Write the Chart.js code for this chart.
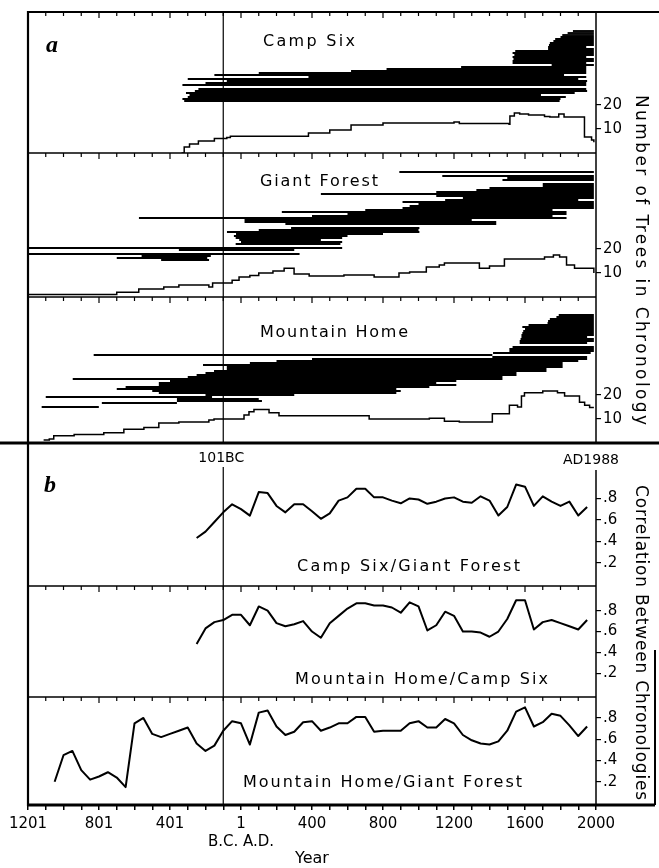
<!DOCTYPE html>
<html lang="en">
<head>
<meta charset="utf-8">
<title>Sequoia chronologies</title>
<script src="https://cdn.jsdelivr.net/npm/chart.js@4.4.1/dist/chart.umd.min.js"></script>
<style>
  html, body { margin: 0; padding: 0; background: #fff; }
  canvas { display: block; }
</style>
</head>
<body>
<canvas id="cronologias" width="659" height="868"></canvas>
<script>
const FUENTE = "'DejaVu Sans', sans-serif";

// years use astronomical numbering (0 = 1 B.C.)
const aniosEtiquetas = [-1200, -800, -400, 0, 400, 800, 1200, 1600, 2000];
const etiquetasAnio = ['1201', '801', '401', '1', '400', '800', '1200', '1600', '2000'];
const ticksArboles = [10, 20];
const ticksCorrelacion = [0.2, 0.4, 0.6, 0.8];

// a) tree spans (start year, end year, row in the diagram)
const campSixFila = [0, 1, 2, 3, 4, 5, 6, 8, 9, 10, 11, 12, 13, 14, 15, 16, 17, 18, 19, 20, 21, 22, 23, 24, 25, 26, 27, 28, 29, 30, 31, 32, 33, 34, 35];
const campSixInicio = [-320, -330, -300, -290, -310, -260, -240, -330, -200, -80, -300, 380, -150, 100, 620, 820, 1240, 1750, 1530, 1530, 1535, 1530, 1540, 1530, 1545, 1730, 1730, 1735, 1740, 1760, 1770, 1800, 1810, 1840, 1870];
const campSixFin = [1795, 1800, 1830, 1690, 1880, 1950, 1945, 1945, 1945, 1950, 1900, 1945, 1820, 1945, 1945, 1945, 1945, 1988, 1945, 1988, 1988, 1945, 1988, 1988, 1988, 1988, 1945, 1988, 1988, 1988, 1988, 1988, 1988, 1988, 1988];

const giantFila = [0, 1, 2, 3, 5, 6, 8, 9, 10, 11, 12, 13, 14, 15, 16, 18, 19, 20, 21, 22, 23, 24, 25, 26, 27, 28, 29, 30, 31, 32, 33, 34, 35, 36, 37, 38, 40, 41, 42, 44];
const giantInicio = [-450, -700, -560, -1200, -350, -1200, -30, 0, -10, -30, -40, -28, -79, 100, 282, 250, 20, 20, -575, 400, 600, 230, 700, 910, 950, 1000, 910, 1150, 1250, 1100, 450, 1100, 1326, 1400, 1700, 1700, 1473, 1500, 1134, 892];
const giantFin = [-180, -190, -170, 330, 300, 570, 560, 570, 450, 570, 600, 800, 1005, 1000, 1005, 1438, 1438, 1300, 1834, 1755, 1834, 1834, 1755, 1988, 1988, 1988, 1988, 1900, 1988, 1988, 1988, 1988, 1988, 1988, 1988, 1988, 1988, 1988, 1988, 1988];

const mountainFila = [0, 2, 3, 4, 5, 6, 7, 8, 9, 10, 11, 12, 13, 14, 15, 16, 17, 18, 19, 20, 21, 22, 23, 24, 25, 26, 27, 28, 29, 30, 32, 33, 34, 35, 36, 37, 38, 39, 40, 41, 42, 43, 44, 45, 46];
const mountainInicio = [-1123, -784, -361, -361, -1100, -200, -463, -500, -700, -650, -463, -463, -400, -948, -300, -250, -200, -152, -80, -80, -214, 50, 200, 400, 1416, -830, 1420, 1512, 1512, 1530, 1570, 1570, 1575, 1580, 1580, 1585, 1590, 1600, 1585, 1620, 1727, 1730, 1740, 1777, 1790];
const mountainFin = [-801, -361, 118, 100, -163, 300, 875, 900, 875, 1061, 1213, 1100, 1213, 1473, 1473, 1552, 1552, 1721, 1721, 1812, 1812, 1812, 1900, 1950, 1950, 1416, 1970, 1988, 1988, 1988, 1950, 1988, 1988, 1950, 1988, 1988, 1988, 1988, 1988, 1988, 1988, 1988, 1988, 1988, 1988];

// a) number of trees in chronology
const aniosCampSix = [-335, -320, -290, -240, -150, -80, -60, 380, 500, 620, 800, 1200, 1230, 1510, 1515, 1540, 1570, 1620, 1710, 1740, 1790, 1820, 1935, 1975, 1988];
const nCampSix = [0, 2.5, 3.7, 5, 6, 6.5, 7, 8.3, 9.6, 11.7, 12.5, 12.9, 12.3, 12, 15.4, 16.7, 16.2, 15.8, 15.2, 15, 16.2, 15, 6.7, 5.4, 4.5];
const aniosGiant = [-1200, -700, -576, -435, -350, -181, -160, -96, -50, -11, 50, 100, 180, 243, 299, 384, 580, 750, 890, 950, 1044, 1117, 1146, 1343, 1400, 1484, 1710, 1760, 1795, 1834, 1879, 1988];
const nGiant = [1, 2, 3.3, 4.2, 5, 4.2, 5.8, 5.8, 7, 8.3, 9, 10, 10.8, 12, 9.6, 8.7, 9.2, 8.3, 10, 10.4, 12.5, 13.3, 14.2, 12, 12.9, 15.8, 16.7, 17.5, 16.7, 13.3, 12, 10];
const aniosMountain = [-1112, -1080, -1055, -940, -773, -660, -547, -463, -350, -181, -152, 17, 45, 73, 158, 214, 722, 1061, 1146, 1230, 1416, 1512, 1558, 1580, 1597, 1700, 1783, 1823, 1907, 1936, 1964, 1988];
const nMountain = [1.3, 1.7, 3, 3.5, 4.3, 5.7, 6.5, 8.3, 8.7, 9.6, 10, 11.7, 13, 13.9, 12.6, 11.3, 10, 10.3, 9.1, 8.7, 12.2, 15.7, 15, 19.6, 20.9, 21.7, 20.9, 19.6, 17, 15.7, 14.8, 14.8];

// b) correlation between chronologies
const aniosCorr = [-250, -200, -150, -100, -50, 0, 50, 100, 150, 200, 250, 300, 350, 400, 450, 500, 550, 600, 650, 700, 750, 800, 850, 900, 950, 1000, 1050, 1100, 1150, 1200, 1250, 1300, 1350, 1400, 1450, 1500, 1550, 1600, 1650, 1700, 1750, 1800, 1850, 1900, 1950];
const corrCampGiant = [0.43, 0.49, 0.58, 0.67, 0.745, 0.70, 0.64, 0.86, 0.85, 0.73, 0.67, 0.745, 0.745, 0.68, 0.61, 0.66, 0.78, 0.81, 0.89, 0.89, 0.81, 0.81, 0.78, 0.755, 0.80, 0.79, 0.75, 0.77, 0.80, 0.81, 0.77, 0.76, 0.82, 0.78, 0.64, 0.72, 0.93, 0.91, 0.73, 0.82, 0.77, 0.73, 0.77, 0.64, 0.72];
const corrMountainCamp = [0.48, 0.63, 0.69, 0.71, 0.76, 0.76, 0.66, 0.84, 0.80, 0.68, 0.65, 0.67, 0.70, 0.60, 0.54, 0.68, 0.75, 0.82, 0.87, 0.87, 0.85, 0.85, 0.83, 0.78, 0.88, 0.84, 0.61, 0.66, 0.79, 0.75, 0.60, 0.60, 0.59, 0.55, 0.60, 0.72, 0.90, 0.90, 0.62, 0.69, 0.71, 0.68, 0.65, 0.62, 0.71];
const aniosCorrLargo = [-1050, -1000, -950, -900, -850, -800, -750, -700, -650, -600, -550, -500, -450, -400, -350, -300, -250, -200, -150, -100, -50, 0, 50, 100, 150, 200, 250, 300, 350, 400, 450, 500, 550, 600, 650, 700, 750, 800, 850, 900, 950, 1000, 1050, 1100, 1150, 1200, 1250, 1300, 1350, 1400, 1450, 1500, 1550, 1600, 1650, 1700, 1750, 1800, 1850, 1900, 1950];
const corrMountainGiant = [0.20, 0.45, 0.49, 0.31, 0.22, 0.25, 0.29, 0.24, 0.15, 0.75, 0.80, 0.65, 0.62, 0.65, 0.68, 0.71, 0.56, 0.49, 0.54, 0.68, 0.77, 0.75, 0.55, 0.85, 0.87, 0.72, 0.64, 0.67, 0.76, 0.77, 0.68, 0.71, 0.75, 0.75, 0.81, 0.81, 0.67, 0.68, 0.68, 0.68, 0.75, 0.77, 0.71, 0.71, 0.79, 0.75, 0.64, 0.59, 0.56, 0.55, 0.58, 0.68, 0.86, 0.90, 0.72, 0.76, 0.84, 0.82, 0.73, 0.63, 0.72];

// row spacing of the tree bars, in units of the tree-count axis
const pasoFila = 0.833;

function puntos(anios, valores) {
  return anios.map((a, i) => ({ x: a, y: valores[i] }));
}

function barrasArboles(inicio, fin, fila, base, eje) {
  return inicio.map((a, i) => ({
    yAxisID: eje,
    data: [{ x: a, y: base + fila[i] * pasoFila }, { x: fin[i], y: base + fila[i] * pasoFila }],
    borderColor: '#000',
    borderWidth: 1.9,
    pointRadius: 0,
    borderCapStyle: 'butt'
  }));
}

function escalon(anios, valores, eje) {
  return {
    yAxisID: eje, data: puntos(anios, valores), stepped: true,
    borderColor: '#000', borderWidth: 1.5, pointRadius: 0
  };
}

function correlacion(anios, valores, eje) {
  return {
    yAxisID: eje, data: puntos(anios, valores),
    borderColor: '#000', borderWidth: 2, pointRadius: 0, tension: 0, borderJoinStyle: 'round'
  };
}

function ejePanel(peso, min, max, valores, formato) {
  return {
    type: 'linear', position: 'right', stack: 'paneles', stackWeight: peso,
    min: min, max: max, bounds: 'data',
    afterBuildTicks: s => { s.ticks = valores.map(v => ({ value: v })); },
    afterFit: s => { s.width = 63; },
    border: { display: false },
    grid: { drawOnChartArea: false, drawTicks: true, tickLength: 5, color: '#000', lineWidth: 1.2 },
    ticks: { autoSkip: false, color: '#000', padding: 2, font: { family: FUENTE, size: 15 }, callback: formato }
  };
}

const numero = v => String(v);
const decimal = v => '.' + Math.round(v * 10);

function etiquetaX(v) {
  const i = aniosEtiquetas.indexOf(v);
  if (i < 0) return '';
  if (v === 0) return [etiquetasAnio[i], 'B.C. A.D.'];
  return etiquetasAnio[i];
}

function textoAncho(ctx, texto, x, y, ancho) {
  ctx.letterSpacing = '0px';
  const natural = ctx.measureText(texto).width;
  const extra = Math.max(0, (ancho - natural) / (texto.length - 1));
  ctx.letterSpacing = extra.toFixed(2) + 'px';
  ctx.fillText(texto, x, y);
  ctx.letterSpacing = '0px';
}

const marcoFigura = {
  id: 'marcoFigura',
  afterDraw(chart) {
    const { ctx, chartArea: area, scales } = chart;
    const px = v => scales.x.getPixelForValue(v);
    const [a1, a2, a3, b1, b2, b3] = ['a1', 'a2', 'a3', 'b1', 'b2', 'b3'].map(k => scales[k]);
    const linea = (x0, y0, x1, y1, w) => {
      ctx.lineWidth = w;
      ctx.beginPath(); ctx.moveTo(x0, y0); ctx.lineTo(x1, y1); ctx.stroke();
    };
    ctx.save();
    ctx.strokeStyle = '#000';
    ctx.fillStyle = '#000';

    // frame and panel separators
    linea(area.left, a1.top, chart.width, a1.top, 2);
    linea(area.left, a1.top - 1, area.left, area.bottom + 1, 2.2);
    linea(area.left, a1.bottom, area.right, a1.bottom, 1.5);
    linea(area.left, a2.bottom, area.right, a2.bottom, 1.5);
    linea(0, a3.bottom, chart.width, a3.bottom, 3);
    linea(area.left, b1.bottom, area.right, b1.bottom, 1.5);
    linea(area.left, b2.bottom, area.right, b2.bottom, 1.5);
    linea(area.left, area.bottom, 655, area.bottom, 3);
    linea(655, 650, 655, area.bottom, 2);
    linea(area.right, a1.top, area.right, a3.bottom, 1.5);
    linea(area.right, b1.top + 27, area.right, area.bottom, 1.5);

    // 101 BC marker
    linea(px(-100), a1.top, px(-100), a3.bottom, 1.2);
    linea(px(-100), b1.top + 24, px(-100), area.bottom, 1.2);

    // inward ticks on panel tops
    [a1, a2, a3, b2, b3].forEach(s => {
      for (let v = -1100; v < 2000; v += 100) {
        linea(px(v), s.top, px(v), s.top + (v % 400 === 0 ? 6 : 4), 1.2);
      }
    });

    // labels
    ctx.textBaseline = 'middle';
    ctx.textAlign = 'center';
    ctx.font = "bold italic 24px 'Liberation Serif', serif";
    ctx.fillText('a', 52, a1.top + 34);
    ctx.fillText('b', 50, b1.top + 43);

    ctx.font = '14px ' + FUENTE;
    ctx.fillText('101BC', px(-100) - 2, b1.top + 15);
    ctx.fillText('AD1988', area.right - 5, b1.top + 17);

    ctx.textAlign = 'left';
    ctx.font = '16px ' + FUENTE;
    textoAncho(ctx, 'Camp Six', 263, a1.top + 30, 92);
    textoAncho(ctx, 'Giant Forest', 260, a2.top + 29, 118);
    textoAncho(ctx, 'Mountain Home', 260, a3.top + 36, 148);
    textoAncho(ctx, 'Camp Six/Giant Forest', 297, b1.top + 124, 223);
    textoAncho(ctx, 'Mountain Home/Camp Six', 295, b2.top + 94, 253);
    textoAncho(ctx, 'Mountain Home/Giant Forest', 243, b3.top + 86, 279);

    ctx.font = '17px ' + FUENTE;
    ctx.save();
    ctx.translate(640, 95);
    ctx.rotate(Math.PI / 2);
    textoAncho(ctx, 'Number of Trees in Chronology', 0, 0, 330);
    ctx.restore();
    ctx.save();
    ctx.translate(640, 485);
    ctx.rotate(Math.PI / 2);
    textoAncho(ctx, 'Correlation Between Chronologies', 0, 0, 315);
    ctx.restore();

    ctx.restore();
  }
};

const datasets = [
  ...barrasArboles(campSixInicio, campSixFin, campSixFila, 21.67, 'a1'),
  escalon(aniosCampSix, nCampSix, 'a1'),
  ...barrasArboles(giantInicio, giantFin, giantFila, 15.42, 'a2'),
  escalon(aniosGiant, nGiant, 'a2'),
  ...barrasArboles(mountainInicio, mountainFin, mountainFila, 15.0, 'a3'),
  escalon(aniosMountain, nMountain, 'a3'),
  correlacion(aniosCorr, corrCampGiant, 'b1'),
  correlacion(aniosCorr, corrMountainCamp, 'b2'),
  correlacion(aniosCorrLargo, corrMountainGiant, 'b3')
];

const marcasX = [];
for (let v = -1200; v <= 2000; v += 100) marcasX.push(v);

new Chart(document.getElementById('cronologias'), {
  type: 'line',
  data: { datasets: datasets },
  plugins: [marcoFigura],
  options: {
    responsive: false,
    animation: false,
    events: [],
    layout: { padding: { left: 28, top: 12, right: 0, bottom: 0 } },
    plugins: { legend: { display: false }, tooltip: { enabled: false } },
    scales: {
      x: {
        type: 'linear', position: 'bottom', min: -1200, max: 2000, bounds: 'data',
        afterBuildTicks: s => { s.ticks = marcasX.map(v => ({ value: v })); },
        afterFit: s => { s.height = 63; },
        border: { display: false },
        grid: { drawOnChartArea: false, drawTicks: true, tickLength: 5, color: '#000', lineWidth: 1.5 },
        ticks: {
          autoSkip: false, maxRotation: 0, color: '#000', padding: 5,
          font: { family: FUENTE, size: 15 }, callback: etiquetaX
        },
        title: { display: true, text: 'Year', color: '#000', font: { family: FUENTE, size: 16 }, padding: { top: 0, bottom: 0 } }
      },
      a1: ejePanel(141, 0, 58.75, ticksArboles, numero),
      a2: ejePanel(144, 0, 60, ticksArboles, numero),
      a3: ejePanel(146, 0, 60.8, ticksArboles, numero),
      b1: ejePanel(143, -0.018, 1.318, ticksCorrelacion, decimal),
      b2: ejePanel(111, -0.027, 1.036, ticksCorrelacion, decimal),
      b3: ejePanel(108, -0.018, 0.997, ticksCorrelacion, decimal)
    }
  }
});
</script>
</body>
</html>
